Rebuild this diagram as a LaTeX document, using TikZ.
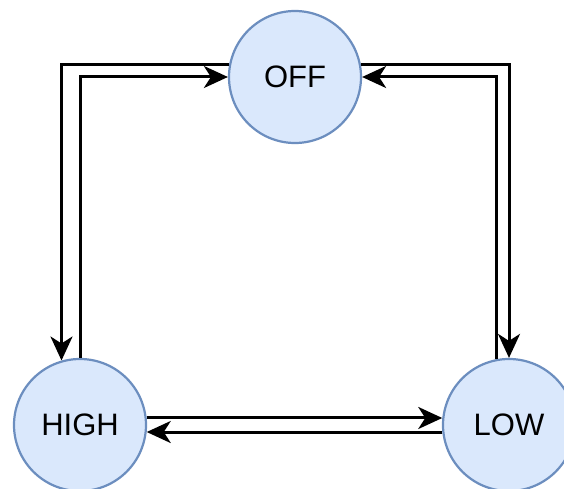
\documentclass[tikz,border=0pt]{standalone}
\usepackage{fontspec}
\setmainfont{Liberation Sans}
\usepackage{tikz}
\usetikzlibrary{arrows.meta}
\definecolor{StateFill}{HTML}{DAE8FC}
\definecolor{StateLine}{HTML}{6C8EBF}
\begin{document}
\begin{tikzpicture}[x=1pt,y=-1pt,
    state/.style={circle,draw=StateLine,fill=StateFill,line width=2.2pt,minimum size=132pt,inner sep=0pt,font=\fontsize{31}{37}\selectfont},
    trans/.style={line width=3pt,-{Stealth[length=24pt,width=22pt,inset=7pt]}}]
      \useasboundingbox (0,0) rectangle (564,489);
      \node[state] (off) at (295,77) {OFF};
      \node[state] (high) at (80,425) {HIGH};
      \node[state] (low) at (509,425) {LOW};
      \draw[trans] (off.169) -| (high.106);
      \draw[trans] (high.north) |- (off.west);
      \draw[trans] (off.11) -| (low.north);
      \draw[trans] (low.101) |- (off.east);
      \draw[trans] (high.6) -- (low.174);
      \draw[trans] (low.186) -- (high.-6);
\end{tikzpicture}
\end{document}
